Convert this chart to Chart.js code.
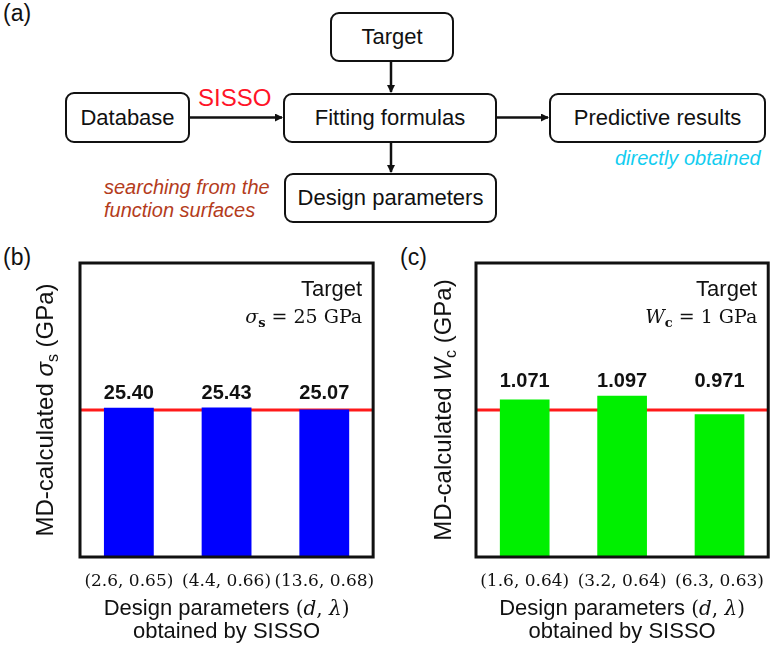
<!DOCTYPE html>
<html>
<head>
<meta charset="utf-8">
<script src="https://cdn.jsdelivr.net/npm/chart.js@4.4.1/dist/chart.umd.min.js"></script>
<style>
  body { margin: 0; background: #fff; }
  #page { position: relative; width: 779px; height: 652px; overflow: hidden; font-family: "Liberation Sans", Arial, sans-serif; color: #111; }
  .box { position: absolute; box-sizing: border-box; border: 2.5px solid #111; border-radius: 9px; display: flex; align-items: center; justify-content: center; font-size: 22px; background: #fff; }
  .txt { position: absolute; white-space: nowrap; line-height: 1; }
  canvas { position: absolute; }
</style>
</head>
<body>
<div id="page">
  <!-- (a) flowchart -->
  <div class="txt" style="left:3px; top:2px; font-size:23px;">(a)</div>
  <svg width="779" height="240" style="position:absolute; left:0; top:0;">
    <defs>
      <marker id="ah" markerWidth="8" markerHeight="8" refX="7" refY="4" orient="auto" markerUnits="userSpaceOnUse">
        <path d="M0,0 L8,4 L0,8 z" fill="#111"/>
      </marker>
    </defs>
    <g stroke="#111" stroke-width="2.5" fill="none">
      <line x1="190" y1="117.5" x2="282" y2="117.5" marker-end="url(#ah)"/>
      <line x1="391" y1="62" x2="391" y2="92" marker-end="url(#ah)"/>
      <line x1="391" y1="143" x2="391" y2="172" marker-end="url(#ah)"/>
      <line x1="497" y1="117.5" x2="548" y2="117.5" marker-end="url(#ah)"/>
    </g>
  </svg>
  <div class="box" style="left:330px; top:12px; width:124px; height:50px;">Target</div>
  <div class="box" style="left:65px; top:92px; width:125px; height:51px;">Database</div>
  <div class="box" style="left:283px; top:93px; width:214px; height:50px;">Fitting formulas</div>
  <div class="box" style="left:549px; top:93px; width:217px; height:50px;">Predictive results</div>
  <div class="box" style="left:284px; top:173px; width:213px; height:50px;">Design parameters</div>
  <div class="txt" style="left:198px; top:86px; font-size:24px; color:#ff1428;">SISSO</div>
  <div class="txt" style="left:615px; top:148px; font-size:20px; font-style:italic; color:#12cdf0;">directly obtained</div>
  <div class="txt" style="left:104px; top:177px; font-size:20px; font-style:italic; color:#b43c1c;">searching from the</div>
  <div class="txt" style="left:104px; top:200px; font-size:20px; font-style:italic; color:#b43c1c;">function surfaces</div>

  <!-- (b) and (c) -->
  <div class="txt" style="left:3px; top:246px; font-size:23px;">(b)</div>
  <div class="txt" style="left:400px; top:246px; font-size:23px;">(c)</div>
  <canvas id="chartB" width="390" height="412" style="left:0; top:240px;"></canvas>
  <canvas id="chartC" width="389" height="412" style="left:390px; top:240px;"></canvas>
</div>

<script>
// Panel (b): strength sigma_s
const categoriesB = ['(2.6, 0.65)', '(4.4, 0.66)', '(13.6, 0.68)'];
const valuesB = [25.40, 25.43, 25.07];
const targetB = 25;
const yMaxB = 50;

// Panel (c): W_c
const categoriesC = ['(1.6, 0.64)', '(3.2, 0.64)', '(6.3, 0.63)'];
const valuesC = [1.071, 1.097, 0.971];
const targetC = 1;
const yMaxC = 2;

const SANS = '"Liberation Sans", Arial, sans-serif';
const SERIF = '"DejaVu Serif", serif';

// Draw a row of text pieces with different fonts
function drawRuns(ctx, runs, x, y, align) {
    let total = 0;
    runs.forEach(r => {
        ctx.font = r.font;
        r.w = ctx.measureText(r.text).width;
        total += r.w;
    });
    let cx = x;
    if (align === 'right') cx = x - total;
    if (align === 'center') cx = x - total / 2;
    ctx.textAlign = 'left';
    ctx.textBaseline = 'alphabetic';
    runs.forEach(r => {
        ctx.font = r.font;
        ctx.fillText(r.text, cx, y + (r.dy || 0));
        cx += r.w;
    });
}

const figurePlugin = {
    id: 'figure',
    beforeDatasetsDraw(chart, args, opts) {
        const { ctx, chartArea: a } = chart;
        const py = chart.scales.y.getPixelForValue(opts.target);
        ctx.save();
        ctx.strokeStyle = '#ff1a1a';
        ctx.lineWidth = 3;
        ctx.beginPath();
        ctx.moveTo(a.left, py);
        ctx.lineTo(a.right, py);
        ctx.stroke();
        ctx.restore();
    },
    afterDraw(chart, args, opts) {
        const { ctx, chartArea: a } = chart;
        ctx.save();
        ctx.fillStyle = '#111';

        // frame
        ctx.strokeStyle = '#111';
        ctx.lineWidth = 3;
        ctx.strokeRect(a.left, a.top, a.right - a.left, a.bottom - a.top);

        // value labels, all on one row above the tallest bar
        const bars = chart.getDatasetMeta(0).data;
        const topY = Math.min(...bars.map(b => b.y)) - 14;
        ctx.font = 'bold 20px ' + SANS;
        ctx.textAlign = 'center';
        ctx.textBaseline = 'middle';
        const vals = chart.data.datasets[0].data;
        bars.forEach((b, i) => ctx.fillText(vals[i].toFixed(opts.digits), b.x, topY));

        // target note
        ctx.font = '22px ' + SANS;
        ctx.textAlign = 'right';
        ctx.textBaseline = 'alphabetic';
        ctx.fillText('Target', a.right - 11, a.top + 33);
        drawRuns(ctx, opts.targetRuns, a.right - 11, a.top + 60, 'right');

        // x title
        const cx = (a.left + a.right) / 2;
        drawRuns(ctx, [
            { text: 'Design parameters ', font: '22px ' + SANS },
            { text: '(', font: '20px ' + SERIF },
            { text: 'd', font: 'italic 20px ' + SERIF },
            { text: ', ', font: '20px ' + SERIF },
            { text: 'λ', font: 'italic 20px ' + SERIF },
            { text: ')', font: '20px ' + SERIF }
        ], cx, a.bottom + 58, 'center');
        drawRuns(ctx, [{ text: 'obtained by SISSO', font: '22px ' + SANS }], cx, a.bottom + 81, 'center');

        // y title, rotated
        ctx.translate(opts.yTitleX, (a.top + a.bottom) / 2);
        ctx.rotate(-Math.PI / 2);
        drawRuns(ctx, opts.yTitleRuns, 0, 0, 'center');
        ctx.restore();
    }
};

function makeChart(id, labels, values, color, yMax, padRight, padLeft, figOpts) {
    return new Chart(document.getElementById(id), {
        type: 'bar',
        data: {
            labels: labels,
            datasets: [{
                data: values,
                backgroundColor: color,
                borderWidth: 0,
                barPercentage: 0.51,
                categoryPercentage: 1
            }]
        },
        options: {
            responsive: false,
            animation: false,
            layout: { padding: { left: padLeft, top: 23, right: padRight, bottom: 0 } },
            plugins: {
                legend: { display: false },
                tooltip: { enabled: false },
                figure: figOpts
            },
            scales: {
                x: {
                    grid: { display: false, drawTicks: false },
                    border: { display: false },
                    ticks: {
                        font: { family: 'DejaVu Serif', size: 17 },
                        color: '#111',
                        padding: 14,
                        maxRotation: 0,
                        minRotation: 0,
                        autoSkip: false
                    },
                    afterFit: function(scale) {
                        scale.height = 95;
                    }
                },
                y: { display: false, min: 0, max: yMax }
            }
        },
        plugins: [figurePlugin]
    });
}

makeChart('chartB', categoriesB, valuesB, '#0000ff', yMaxB, 11, 80, {
    target: targetB,
    digits: 2,
    yTitleX: 53,
    targetRuns: [
        { text: 'σ', font: 'italic 19px ' + SERIF },
        { text: 's', font: 'bold 13px ' + SERIF, dy: 4 },
        { text: ' = ' + targetB + ' GPa', font: '19px ' + SERIF }
    ],
    yTitleRuns: [
        { text: 'MD-calculated ', font: '24px ' + SANS },
        { text: 'σ', font: 'italic 24px ' + SANS },
        { text: 's', font: '16px ' + SANS, dy: 5 },
        { text: ' (GPa)', font: '24px ' + SANS }
    ]
});

makeChart('chartC', categoriesC, valuesC, '#00f000', yMaxC, 6, 86, {
    target: targetC,
    digits: 3,
    yTitleX: 61,
    targetRuns: [
        { text: 'W', font: 'italic 19px ' + SERIF },
        { text: 'c', font: 'bold 13px ' + SERIF, dy: 4 },
        { text: ' = ' + targetC + ' GPa', font: '19px ' + SERIF }
    ],
    yTitleRuns: [
        { text: 'MD-calculated ', font: '24px ' + SANS },
        { text: 'W', font: 'italic 24px ' + SANS },
        { text: 'c', font: '16px ' + SANS, dy: 5 },
        { text: ' (GPa)', font: '24px ' + SANS }
    ]
});
</script>
</body>
</html>
